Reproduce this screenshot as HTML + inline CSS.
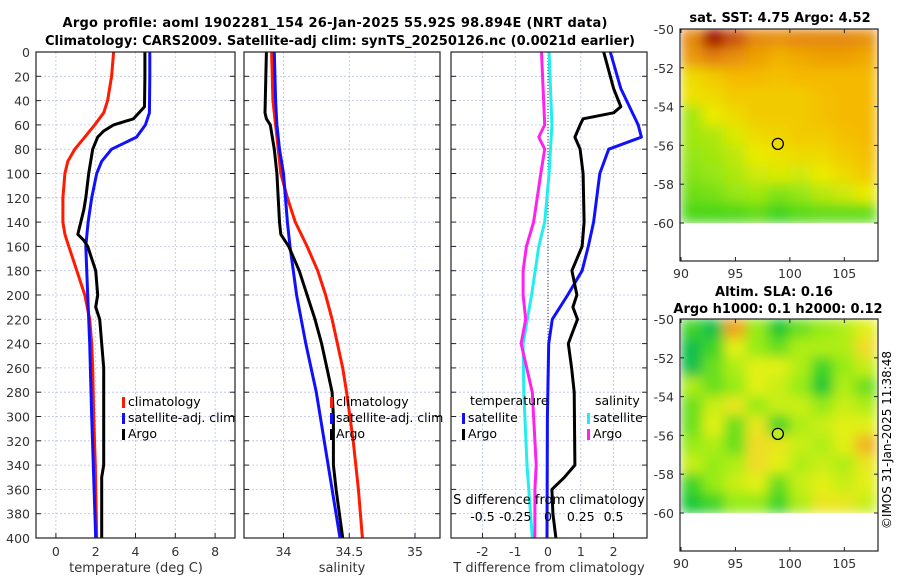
<!DOCTYPE html>
<html><head><meta charset="utf-8">
<style>
html,body{margin:0;padding:0;background:#fff;}
svg{display:block;font-family:"DejaVu Sans","Liberation Sans",sans-serif;}
</style></head>
<body>
<svg id="fig" width="900" height="580" viewBox="0 0 900 580" xmlns="http://www.w3.org/2000/svg">
<defs>
<filter id="blur" x="-5%" y="-5%" width="110%" height="110%"><feGaussianBlur stdDeviation="6" edgeMode="duplicate"/></filter>
<clipPath id="clipSST"><rect x="681" y="29" width="196" height="194"/></clipPath>
<clipPath id="clipSLA"><rect x="681" y="319" width="196" height="194"/></clipPath>
</defs>
<text x="335" y="27" font-size="13" font-weight="bold" text-anchor="middle" textLength="545">Argo profile: aoml 1902281_154 26-Jan-2025 55.92S 98.894E (NRT data)</text>
<text x="340" y="45" font-size="13" font-weight="bold" text-anchor="middle" textLength="590">Climatology: CARS2009. Satellite-adj clim: synTS_20250126.nc (0.0021d earlier)</text>
<text x="780" y="22" font-size="13" font-weight="bold" text-anchor="middle">sat. SST: 4.75 Argo: 4.52</text>
<text x="774" y="296" font-size="13" font-weight="bold" text-anchor="middle">Altim. SLA: 0.16</text>
<text x="778" y="313" font-size="13" font-weight="bold" text-anchor="middle">Argo h1000: 0.1 h2000: 0.12</text>
<text transform="translate(891,440) rotate(-90)" font-size="12" text-anchor="middle">©IMOS 31-Jan-2025 11:38:48</text>
<g id="plots"></g>
</svg>
<script>
// ---- profile data (depth in m) ----
const tClimDepth = [0,20,40,50,60,70,80,90,100,120,140,150,160,180,200,220,240,260,300,340,400];
const tClimVal   = [2.9,2.8,2.6,2.4,1.95,1.45,0.95,0.6,0.45,0.35,0.35,0.45,0.65,1.05,1.45,1.7,1.8,1.85,1.9,1.98,2.05];
const tSatDepth  = [0,20,50,60,70,80,90,100,120,140,160,200,240,300,400];
const tSatVal    = [4.72,4.72,4.7,4.5,4.05,2.8,2.3,2.05,1.8,1.62,1.5,1.6,1.7,1.8,2.0];
const tArgoDepth = [0,20,45,55,60,65,70,80,100,120,130,140,150,155,160,180,200,210,220,240,260,300,340,350,380,400];
const tArgoVal   = [4.47,4.47,4.45,3.9,2.9,2.4,2.1,1.85,1.65,1.5,1.4,1.25,1.1,1.4,1.6,2.0,2.1,2.0,2.2,2.3,2.4,2.4,2.4,2.3,2.3,2.3];

const sClimDepth = [0,40,60,80,100,120,140,160,180,200,220,240,260,280,320,360,400];
const sClimVal   = [33.91,33.92,33.94,33.96,33.98,34.03,34.09,34.18,34.26,34.32,34.37,34.41,34.45,34.48,34.53,34.57,34.6];
const sSatDepth  = [0,40,60,80,100,140,160,200,240,280,320,360,400];
const sSatVal    = [33.93,33.94,33.95,33.97,34.0,34.03,34.05,34.1,34.17,34.25,34.31,34.37,34.43];
const sArgoDepth = [0,50,55,60,80,100,120,140,150,160,180,200,220,240,260,280,300,340,360,400];
const sArgoVal   = [33.87,33.86,33.87,33.9,33.93,33.95,33.96,33.97,33.98,34.04,34.12,34.18,34.24,34.29,34.33,34.37,34.38,34.38,34.4,34.45];

const dTSatDepth = [0,30,60,70,80,100,140,160,180,200,220,240,300,400];
const dTSatVal   = [1.9,2.22,2.75,2.85,1.85,1.58,1.39,1.23,1.04,0.6,0.13,0.02,-0.02,-0.03];
const dTArgoDepth= [0,30,45,50,55,60,70,80,100,140,160,180,200,210,220,230,240,260,280,340,350,360,380,400];
const dTArgoVal  = [1.7,2.0,2.22,2.0,1.07,0.98,0.82,0.98,1.07,1.1,1.04,0.73,0.88,0.76,0.9,0.76,0.62,0.72,0.8,0.82,0.5,0.12,0.15,0.24];
const dSSatDepth = [0,60,100,140,160,200,240,280,340,400];
const dSSatVal   = [0.008,0.03,0.008,-0.025,-0.07,-0.125,-0.19,-0.185,-0.16,-0.12];
const dSArgoDepth= [0,60,70,80,100,140,160,180,200,220,240,280,340,360,400];
const dSArgoVal  = [-0.05,-0.025,-0.07,-0.025,-0.055,-0.11,-0.165,-0.19,-0.19,-0.17,-0.205,-0.12,-0.09,-0.1,-0.1];

const tTicks = [0,2,4,6,8];
const sTicks = [34,34.5,35];
const sTickLabels = ["34","34.5","35"];
const dTTicks = [-2,-1,0,1,2];
const dSTicks = [-0.5,-0.25,0,0.25,0.5];
const depthTicks = [0,20,40,60,80,100,120,140,160,180,200,220,240,260,280,300,320,340,360,380,400];

// ---- map data (rows: -50 to -60 lat, cols: 90 to 108 lon) ----
const sstGrid = [
 [0.72,0.95,0.82,0.72,0.7,0.72,0.72,0.72,0.7],
 [0.68,0.74,0.7,0.66,0.62,0.64,0.66,0.66,0.64],
 [0.5,0.55,0.6,0.6,0.58,0.6,0.6,0.6,0.6],
 [0.48,0.5,0.55,0.55,0.55,0.55,0.58,0.6,0.6],
 [0.32,0.45,0.5,0.55,0.55,0.55,0.58,0.6,0.6],
 [0.32,0.34,0.42,0.5,0.52,0.55,0.55,0.58,0.6],
 [0.3,0.32,0.37,0.45,0.48,0.5,0.5,0.55,0.58],
 [0.27,0.3,0.34,0.4,0.42,0.4,0.45,0.5,0.55],
 [0.22,0.24,0.3,0.32,0.26,0.3,0.36,0.4,0.45],
 [0.15,0.15,0.16,0.2,0.12,0.18,0.2,0.2,0.2]];
const slaGrid = [
 [0.25,0.15,0.75,0.35,0.2,0.3,0.35,0.4,0.5],
 [0.15,0.25,0.5,0.35,0.3,0.4,0.4,0.4,0.6],
 [0.15,0.3,0.4,0.5,0.5,0.4,0.25,0.35,0.45],
 [0.4,0.3,0.35,0.5,0.45,0.35,0.2,0.4,0.3],
 [0.3,0.45,0.55,0.35,0.45,0.45,0.35,0.45,0.4],
 [0.3,0.5,0.3,0.55,0.25,0.4,0.45,0.5,0.5],
 [0.35,0.4,0.3,0.6,0.55,0.45,0.4,0.5,0.7],
 [0.45,0.35,0.4,0.6,0.5,0.4,0.45,0.4,0.55],
 [0.25,0.35,0.45,0.5,0.3,0.45,0.5,0.45,0.5],
 [0.2,0.25,0.35,0.35,0.25,0.4,0.55,0.55,0.45]];
const lonTicks = [90,95,100,105];
const latTicks = [-50,-52,-54,-56,-58,-60];
const argoLon = 98.894, argoLat = -55.92;

const NS = "http://www.w3.org/2000/svg";
const root = document.getElementById('plots');
function mk(tag, attrs, parent){const e=document.createElementNS(NS,tag);for(const k in attrs)e.setAttribute(k,attrs[k]);(parent||root).appendChild(e);return e;}
function txt(s,x,y,size,anchor,parent){const t=mk('text',{x:x,y:y,'font-size':size,'text-anchor':anchor||'middle'},parent);t.textContent=s;return t;}

const PT=52, PB=538;
const yD = d => PT + (PB-PT)*d/400;

function panel(name, x0, x1, xmin, xmax){
  const fx = v => x0 + (x1-x0)*(v-xmin)/(xmax-xmin);
  const g = mk('g',{});
  
  
  return {fx:fx,g:g,x0:x0,x1:x1};
}
function grid(p, xt){
  depthTicks.forEach(d=>{ if(d>0&&d<400){ const l=mk('line',{x1:p.x0,x2:p.x1,y1:yD(d),y2:yD(d),stroke:'#b8c0e8','stroke-width':0.8,'stroke-dasharray':'2,2'},p.g);   }});
  xt.forEach(v=>{ const l=mk('line',{x1:p.fx(v),x2:p.fx(v),y1:PT,y2:PB,stroke:'#b8c0e8','stroke-width':0.8,'stroke-dasharray':'2,2'},p.g);   });
}
function frame(p, xt, labels){
  depthTicks.forEach(d=>{ mk('line',{x1:p.x0,x2:p.x0+5,y1:yD(d),y2:yD(d),stroke:'#222'},p.g); mk('line',{x1:p.x1-5,x2:p.x1,y1:yD(d),y2:yD(d),stroke:'#222'},p.g); });
  xt.forEach((v,i)=>{ mk('line',{x1:p.fx(v),x2:p.fx(v),y1:PB,y2:PB-5,stroke:'#222'},p.g);
    const t=txt(labels[i],p.fx(v),PB+18,12.5,'middle',p.g); t.setAttribute('fill','#333');
      });
  const r=mk('rect',{x:p.x0,y:PT,width:p.x1-p.x0,height:PB-PT,fill:'none',stroke:'#222','stroke-width':1.2},p.g);
   
}
function line(p, depths, vals, color, name, scale){
  const k = scale||1;
  const pts = depths.map((d,i)=>p.fx(vals[i]*k).toFixed(1)+','+yD(d).toFixed(1)).join(' ');
  const pl = mk('polyline',{points:pts,fill:'none',stroke:color,'stroke-width':3,'stroke-linejoin':'round'},p.g);
  
  
}
function legend(p, x, y, items){
  items.forEach((it,i)=>{
    mk('rect',{x:x,y:y+i*16-9,width:3,height:11,fill:it[1]},p.g);
    const t=txt(it[0],x+6,y+i*16,12.5,'start',p.g);
     
  });
}

// Panel 1: temperature
const p1 = panel('temperature-panel',36,235,-1,9);
grid(p1,tTicks);
line(p1,tClimDepth,tClimVal,'#ff1a00','temp-climatology-line');
line(p1,tSatDepth,tSatVal,'#1010ff','temp-satellite-line');
line(p1,tArgoDepth,tArgoVal,'#000','temp-argo-line');
frame(p1,tTicks,tTicks.map(String));
depthTicks.forEach(d=>{ const t=txt(String(d),30,yD(d)+5,12.5,'end',p1.g); t.setAttribute('fill','#333');   });
legend(p1,122,406,[['climatology','#ff1a00'],['satellite-adj. clim','#1010ff'],['Argo','#000']]);
{const t=txt('temperature (deg C)',136,572,13,'middle',p1.g); t.setAttribute('fill','#333');  }

// Panel 2: salinity
const p2 = panel('salinity-panel',244,440,33.7,35.19);
grid(p2,sTicks);
line(p2,sClimDepth,sClimVal,'#ff1a00','sal-climatology-line');
line(p2,sSatDepth,sSatVal,'#1010ff','sal-satellite-line');
line(p2,sArgoDepth,sArgoVal,'#000','sal-argo-line');
frame(p2,sTicks,sTickLabels);
legend(p2,330,406,[['climatology','#ff1a00'],['satellite-adj. clim','#1010ff'],['Argo','#000']]);
{const t=txt('salinity',342,572,13,'middle',p2.g); t.setAttribute('fill','#333');  }

// Panel 3: differences
const p3 = panel('difference-panel',451,647,-2.96,3.02);
grid(p3,dTTicks);
mk('line',{x1:p3.fx(0),x2:p3.fx(0),y1:PT,y2:PB,stroke:'#333','stroke-width':1,'stroke-dasharray':'1,2'},p3.g);
line(p3,dSSatDepth,dSSatVal,'#22eeee','sdiff-satellite-line',4);
line(p3,dSArgoDepth,dSArgoVal,'#ff22ee','sdiff-argo-line',4);
line(p3,dTSatDepth,dTSatVal,'#1010ff','tdiff-satellite-line');
line(p3,dTArgoDepth,dTArgoVal,'#000','tdiff-argo-line');
frame(p3,dTTicks,dTTicks.map(String));
dSTicks.forEach(v=>{ const t=txt(String(v),p3.fx(v*4),521,12.5,'middle',p3.g);   });
{const t=txt('S difference from climatology',549,504,13,'middle',p3.g);  }
{const t=txt('T difference from climatology',549,572,13,'middle',p3.g); t.setAttribute('fill','#333');  }
{const t=txt('temperature',470,405,12.5,'start',p3.g);  }
{const t=txt('salinity',595,405,12.5,'start',p3.g);  }
legend(p3,462,422,[['satellite','#1010ff'],['Argo','#000']]);
legend(p3,587,422,[['satellite','#22eeee'],['Argo','#ff22ee']]);

// ---- maps ----
function lerpColor(stops, v){
  v=Math.max(stops[0][0],Math.min(stops[stops.length-1][0],v));
  for(let i=1;i<stops.length;i++){ if(v<=stops[i][0]){ const a=stops[i-1],b=stops[i],t=(v-a[0])/(b[0]-a[0]);
    const c=[0,1,2].map(j=>Math.round(a[1][j]+(b[1][j]-a[1][j])*t)); return 'rgb('+c.join(',')+')'; } }
  return 'rgb('+stops[stops.length-1][1].join(',')+')';
}
const sstStops=[[0,[0,200,30]],[0.3,[150,230,20]],[0.45,[235,235,0]],[0.6,[245,185,0]],[0.75,[225,125,15]],[0.95,[160,0,0]]];
const slaStops=[[0,[0,165,140]],[0.2,[20,200,50]],[0.35,[150,235,20]],[0.5,[225,240,20]],[0.6,[240,220,40]],[0.75,[240,160,30]]];

function mapPanel(name, top, gridData, stops, clipId, circleFill){
  const X0=681, X1=877, latTop=top, lat60=top+194, boxBottom=top+232;
  const fx = lon => X0 + (X1-X0)*(lon-90)/18;
  const fy = lat => latTop + (lat60-latTop)*(-50-lat)/10;
  const g = mk('g',{});
  
  
  const cg = mk('g',{'clip-path':'url(#'+clipId+')'},g);
  const hg = mk('g',{filter:'url(#blur)'},cg);
  gridData.forEach((row,r)=>row.forEach((v,c)=>{
    const cell = mk('rect',{x:fx(90+c*2)-0.5,y:fy(-50-r)-0.5,width:fx(92)-fx(90)+1,height:fy(-51)-fy(-50)+1,fill:lerpColor(stops,v)},hg);
    
    
  }));
  const ci = mk('circle',{cx:fx(argoLon),cy:fy(argoLat),r:5.5,fill:circleFill,stroke:'#000','stroke-width':1.3},g);
  
  
  const fr = mk('rect',{x:680,y:top,width:198,height:boxBottom-top,fill:'none',stroke:'#222','stroke-width':1.2},g);
  
  
  latTicks.forEach(l=>{ mk('line',{x1:680,x2:684,y1:fy(l),y2:fy(l),stroke:'#222'},g); mk('line',{x1:874,x2:878,y1:fy(l),y2:fy(l),stroke:'#222'},g);
    const t=txt(String(l),674,fy(l)+5,12.5,'end',g); t.setAttribute('fill','#333');   });
  lonTicks.forEach(l=>{ mk('line',{x1:fx(l),x2:fx(l),y1:boxBottom,y2:boxBottom-4,stroke:'#222'},g); mk('line',{x1:fx(l),x2:fx(l),y1:top,y2:top+4,stroke:'#222'},g);
    const t=txt(String(l),fx(l),boxBottom+17,12.5,'middle',g); t.setAttribute('fill','#333');   });
}
mapPanel('sst-map',29,sstGrid,sstStops,'clipSST','none');
mapPanel('sla-map',319,slaGrid,slaStops,'clipSLA','#bbee22');
</script>
</body></html>
